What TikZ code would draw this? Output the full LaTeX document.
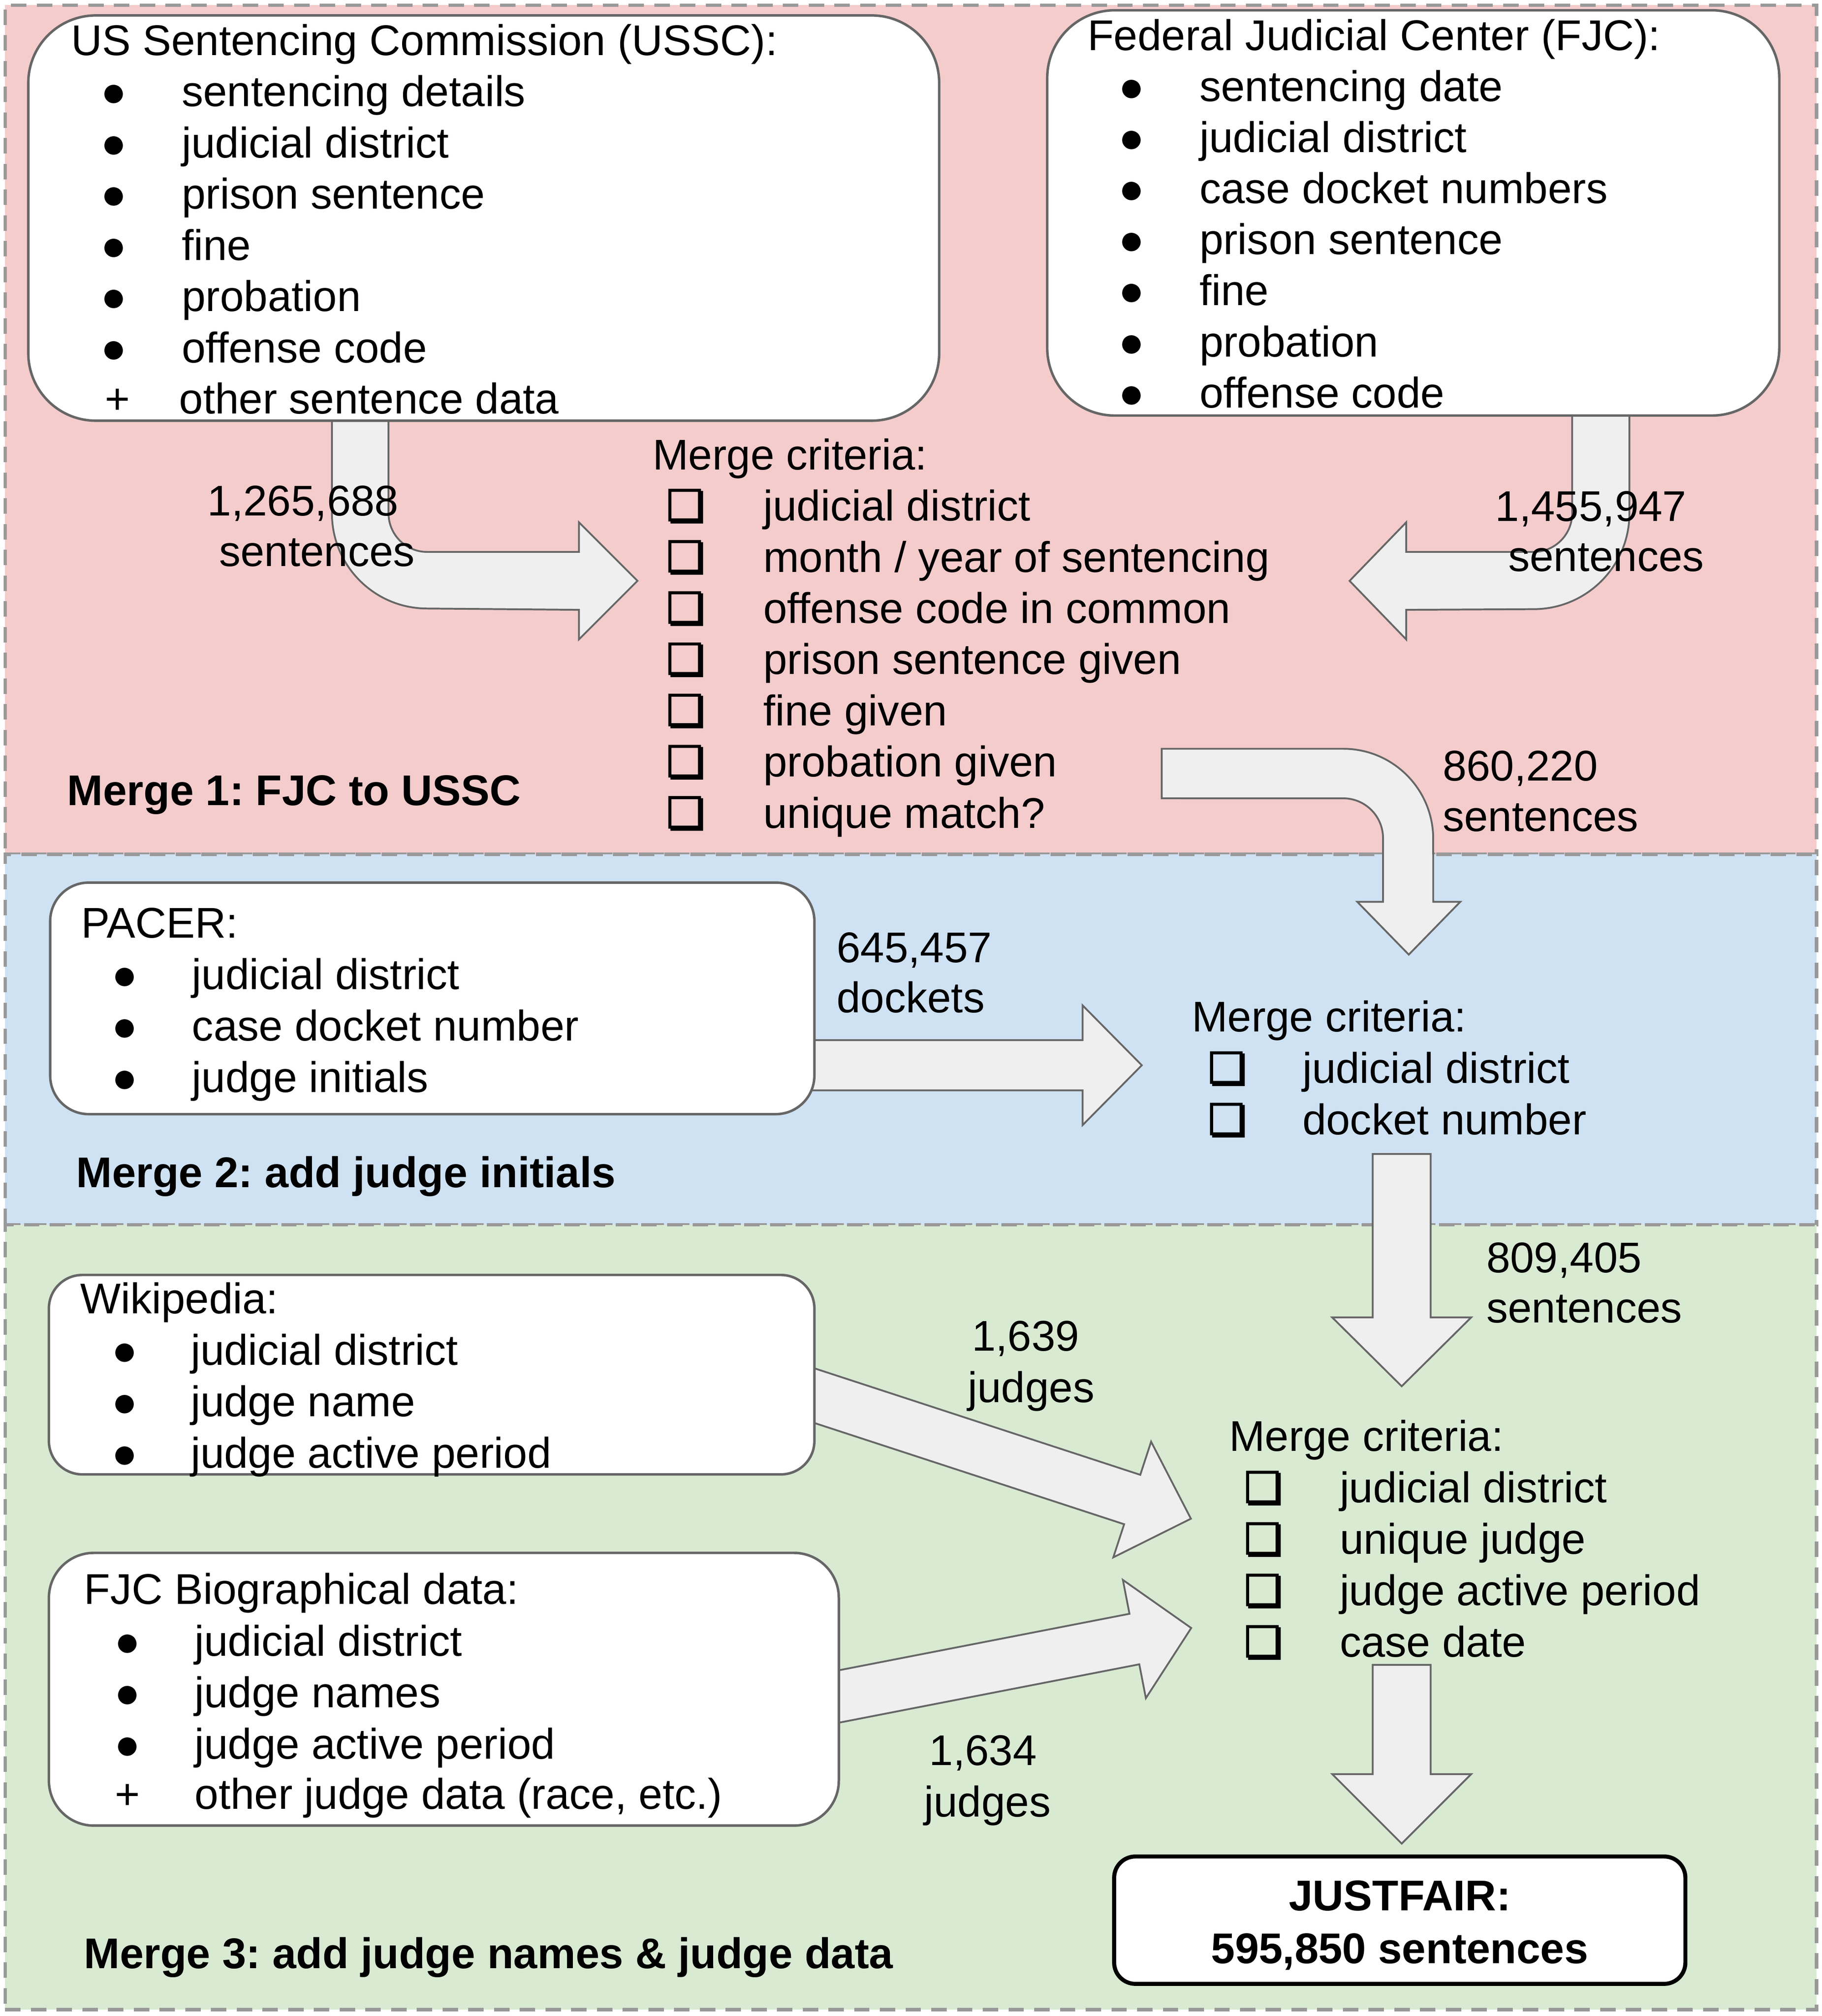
\documentclass[tikz,border=0pt]{standalone}
\usepackage{fontspec}
\setmainfont{Liberation Sans}
\newfontfamily\symfont[FakeBold=3]{DejaVu Sans}
\usetikzlibrary{fit, calc}
\frenchspacing

\definecolor{pinkbg}{HTML}{F4CCCC}
\definecolor{bluebg}{HTML}{CFE2F3}
\definecolor{greenbg}{HTML}{D9EAD3}
\definecolor{dashgray}{HTML}{999999}
\definecolor{boxgray}{HTML}{666666}
\definecolor{arrowfill}{HTML}{EFEFEF}

\newcommand{\txt}{\fontsize{19}{22.65}\selectfont}

% straight block arrow: start, angle, length, shaft half width, head half width, head length
\newcommand{\blockarrow}[6]{%
    \begin{scope}[shift={(#1)}, rotate=#2]
        \draw[blockarrow] (0,-#4) -- (#3-#6,-#4) -- (#3-#6,-#5) -- (#3,0)
            -- (#3-#6,#5) -- (#3-#6,#4) -- (0,#4) -- cycle;
    \end{scope}}

\begin{document}
\begin{tikzpicture}[
    x=0.02cm, y=-0.02cm,
    % Styles
    panel/.style={ % Merge step panel
        draw=dashgray,
        line width=1.5pt,
        dash pattern=on 0.24cm off 0.16cm,
        inner sep=0pt
    },
    source/.style={ % Data source box
        draw=boxgray,
        fill=white,
        line width=1.1pt,
        inner sep=0pt
    },
    result/.style={
        draw=black,
        fill=white,
        line width=1.8pt,
        rounded corners=0.33cm,
        inner sep=0pt
    },
    blockarrow/.style={
        draw=boxgray,
        fill=arrowfill,
        line width=0.8pt,
        line join=miter
    },
    txt/.style={anchor=base west, inner sep=0pt, font=\txt},
    bold/.style={anchor=base west, inner sep=0pt, font=\txt\bfseries},
    bul/.style={anchor=base, inner sep=0pt, font=\txt},
    chk/.style={anchor=base, inner sep=0pt, font=\txt\symfont}
]
    \useasboundingbox (0,0) rectangle (1416,1567);

    % Panels
    \node[panel, fill=pinkbg, fit={(4,4) (1412,664)}] (merge1) {};
    \node[panel, fill=bluebg, fit={(4,664) (1412,952)}] (merge2) {};
    \node[panel, fill=greenbg, fit={(4,952) (1412,1562)}] (merge3) {};

    % USSC -> criteria 1
    \draw[blockarrow] (258,320) -- (258,399) arc[start angle=180, end angle=270, radius=1.48cm]
        -- (450,474) -- (450,497) -- (495.5,451.5) -- (450,406) -- (450,429) -- (332,429)
        arc[start angle=270, end angle=180, radius=0.6cm] -- (302,320) -- cycle;

    % FJC -> criteria 1
    \draw[blockarrow] (1266.5,320) -- (1266.5,399) arc[start angle=0, end angle=-90, radius=1.49cm]
        -- (1093,474) -- (1093,497) -- (1049,451.5) -- (1093,406) -- (1093,429) -- (1192,429)
        arc[start angle=-90, end angle=0, radius=0.6cm] -- (1222,320) -- cycle;

    % criteria 1 -> criteria 2
    \draw[blockarrow] (903,582) -- (1044,582) arc[start angle=90, end angle=0, radius=1.4cm]
        -- (1114,701) -- (1135,701) -- (1095,742) -- (1055,701) -- (1075,701) -- (1075,651.5)
        arc[start angle=0, end angle=90, radius=0.62cm] -- (903,620.5) -- cycle;

    % Straight arrows
    \coordinate (pacer-out) at (625,828);
    \coordinate (crit2-out) at (1089.5,897);
    \coordinate (wiki-out) at (617.7,1079.8);
    \coordinate (bio-out) at (637.3,1321.5);
    \coordinate (crit3-out) at (1089.5,1294);
    \blockarrow{pacer-out}{0}{262.5}{19.5}{46.5}{46}
    \blockarrow{crit2-out}{-90}{180.5}{22.5}{54}{53.5}
    \blockarrow{wiki-out}{-18.1}{324}{20.2}{47.3}{48}
    \blockarrow{bio-out}{11}{294}{20}{46.8}{45}
    \blockarrow{crit3-out}{-90}{139}{22.5}{54}{54}

    % Source boxes
    \node[source, rounded corners=1.05cm, fit={(22,12) (730,327)}] (ussc) {};
    \node[source, rounded corners=1.05cm, fit={(814,8) (1383,323)}] (fjc) {};
    \node[source, rounded corners=0.6cm, fit={(39,686) (633,866)}] (pacer) {};
    \node[source, rounded corners=0.52cm, fit={(38,991) (633,1146)}] (wiki) {};
    \node[source, rounded corners=0.7cm, fit={(38,1207) (652,1419)}] (bio) {};
    \node[result, fit={(866,1443) (1310,1542)}] (justfair) {};

    % USSC
    \node[txt] (ussc-t) at (55,43) {US Sentencing Commission (USSC):};
    \foreach \t [count=\i] in {sentencing details, judicial district, prison sentence, fine, probation, offense code} {
        \node[bul] (ussc-b\i) at (88.5,43+39.8*\i) {●};
        \node[txt] (ussc-\i) at (141,43+39.8*\i) {\t};
    }
    \node[bul] (ussc-b7) at (91.5,321.6) {+};
    \node[txt] (ussc-7) at (139,321.6) {other sentence data};

    % FJC
    \node[txt] (fjc-t) at (845,39) {Federal Judicial Center (FJC):};
    \foreach \t [count=\i] in {sentencing date, judicial district, case docket numbers, prison sentence, fine, probation, offense code} {
        \node[bul] (fjc-b\i) at (879.5,39+39.7*\i) {●};
        \node[txt] (fjc-\i) at (932,39+39.7*\i) {\t};
    }

    % Criteria 1
    \node[txt] (crit1-t) at (507,365) {Merge criteria:};
    \foreach \t [count=\i] in {judicial district, month / year of sentencing, offense code in common, prison sentence given, fine given, probation given, unique match?} {
        \node[chk] (crit1-b\i) at (533,365+39.8*\i) {❏};
        \node[txt] (crit1-\i) at (593,365+39.8*\i) {\t};
    }

    % PACER
    \node[txt] (pacer-t) at (63,729) {PACER:};
    \foreach \t [count=\i] in {judicial district, case docket number, judge initials} {
        \node[bul] (pacer-b\i) at (97,729+40*\i) {●};
        \node[txt] (pacer-\i) at (149,729+40*\i) {\t};
    }

    % Criteria 2
    \node[txt] (crit2-t) at (926,802) {Merge criteria:};
    \foreach \t [count=\i] in {judicial district, docket number} {
        \node[chk] (crit2-b\i) at (954,802+40*\i) {❏};
        \node[txt] (crit2-\i) at (1012,802+40*\i) {\t};
    }

    % Wikipedia
    \node[txt] (wiki-t) at (62,1021) {Wikipedia:};
    \foreach \t [count=\i] in {judicial district, judge name, judge active period} {
        \node[bul] (wiki-b\i) at (97,1021+40*\i) {●};
        \node[txt] (wiki-\i) at (148,1021+40*\i) {\t};
    }

    % FJC Biographical data
    \node[txt] (bio-t) at (65,1247) {FJC Biographical data:};
    \foreach \t [count=\i] in {judicial district, judge names, judge active period} {
        \node[bul] (bio-b\i) at (99,1247+40*\i) {●};
        \node[txt] (bio-\i) at (151,1247+40*\i) {\t};
    }
    \node[bul] (bio-b4) at (99,1406) {+};
    \node[txt] (bio-4) at (151,1406) {other judge data (race, etc.)};

    % Criteria 3
    \node[txt] (crit3-t) at (955,1128) {Merge criteria:};
    \foreach \t [count=\i] in {judicial district, unique judge, judge active period, case date} {
        \node[chk] (crit3-b\i) at (982,1128+40*\i) {❏};
        \node[txt] (crit3-\i) at (1041,1128+40*\i) {\t};
    }

    % Counts
    \node[txt] (n-ussc) at (161,401) {1,265,688};
    \node[txt] (n-ussc-s) at (170,440) {sentences};
    \node[txt] (n-fjc) at (1162,405) {1,455,947};
    \node[txt] (n-fjc-s) at (1172,444) {sentences};
    \node[txt] (n-m1) at (1121,607) {860,220};
    \node[txt] (n-m1-s) at (1121,646) {sentences};
    \node[txt] (n-pacer) at (650,748) {645,457};
    \node[txt] (n-pacer-s) at (650,787) {dockets};
    \node[txt] (n-m2) at (1155,989) {809,405};
    \node[txt] (n-m2-s) at (1155,1028) {sentences};
    \node[txt] (n-wiki) at (755,1050) {1,639};
    \node[txt] (n-wiki-s) at (752,1090) {judges};
    \node[txt] (n-bio) at (722,1372) {1,634};
    \node[txt] (n-bio-s) at (718,1412) {judges};

    % Result
    \node[bold, anchor=base] (jf-t) at (1088,1485) {JUSTFAIR:};
    \node[bold, anchor=base] (jf-n) at (1088,1526) {595,850 sentences};

    % Panel labels
    \node[bold] (merge1-l) at (52,626) {Merge 1: FJC to USSC};
    \node[bold] (merge2-l) at (59,923) {Merge 2: add judge initials};
    \node[bold] (merge3-l) at (65,1530) {Merge 3: add judge names \& judge data};
\end{tikzpicture}
\end{document}
